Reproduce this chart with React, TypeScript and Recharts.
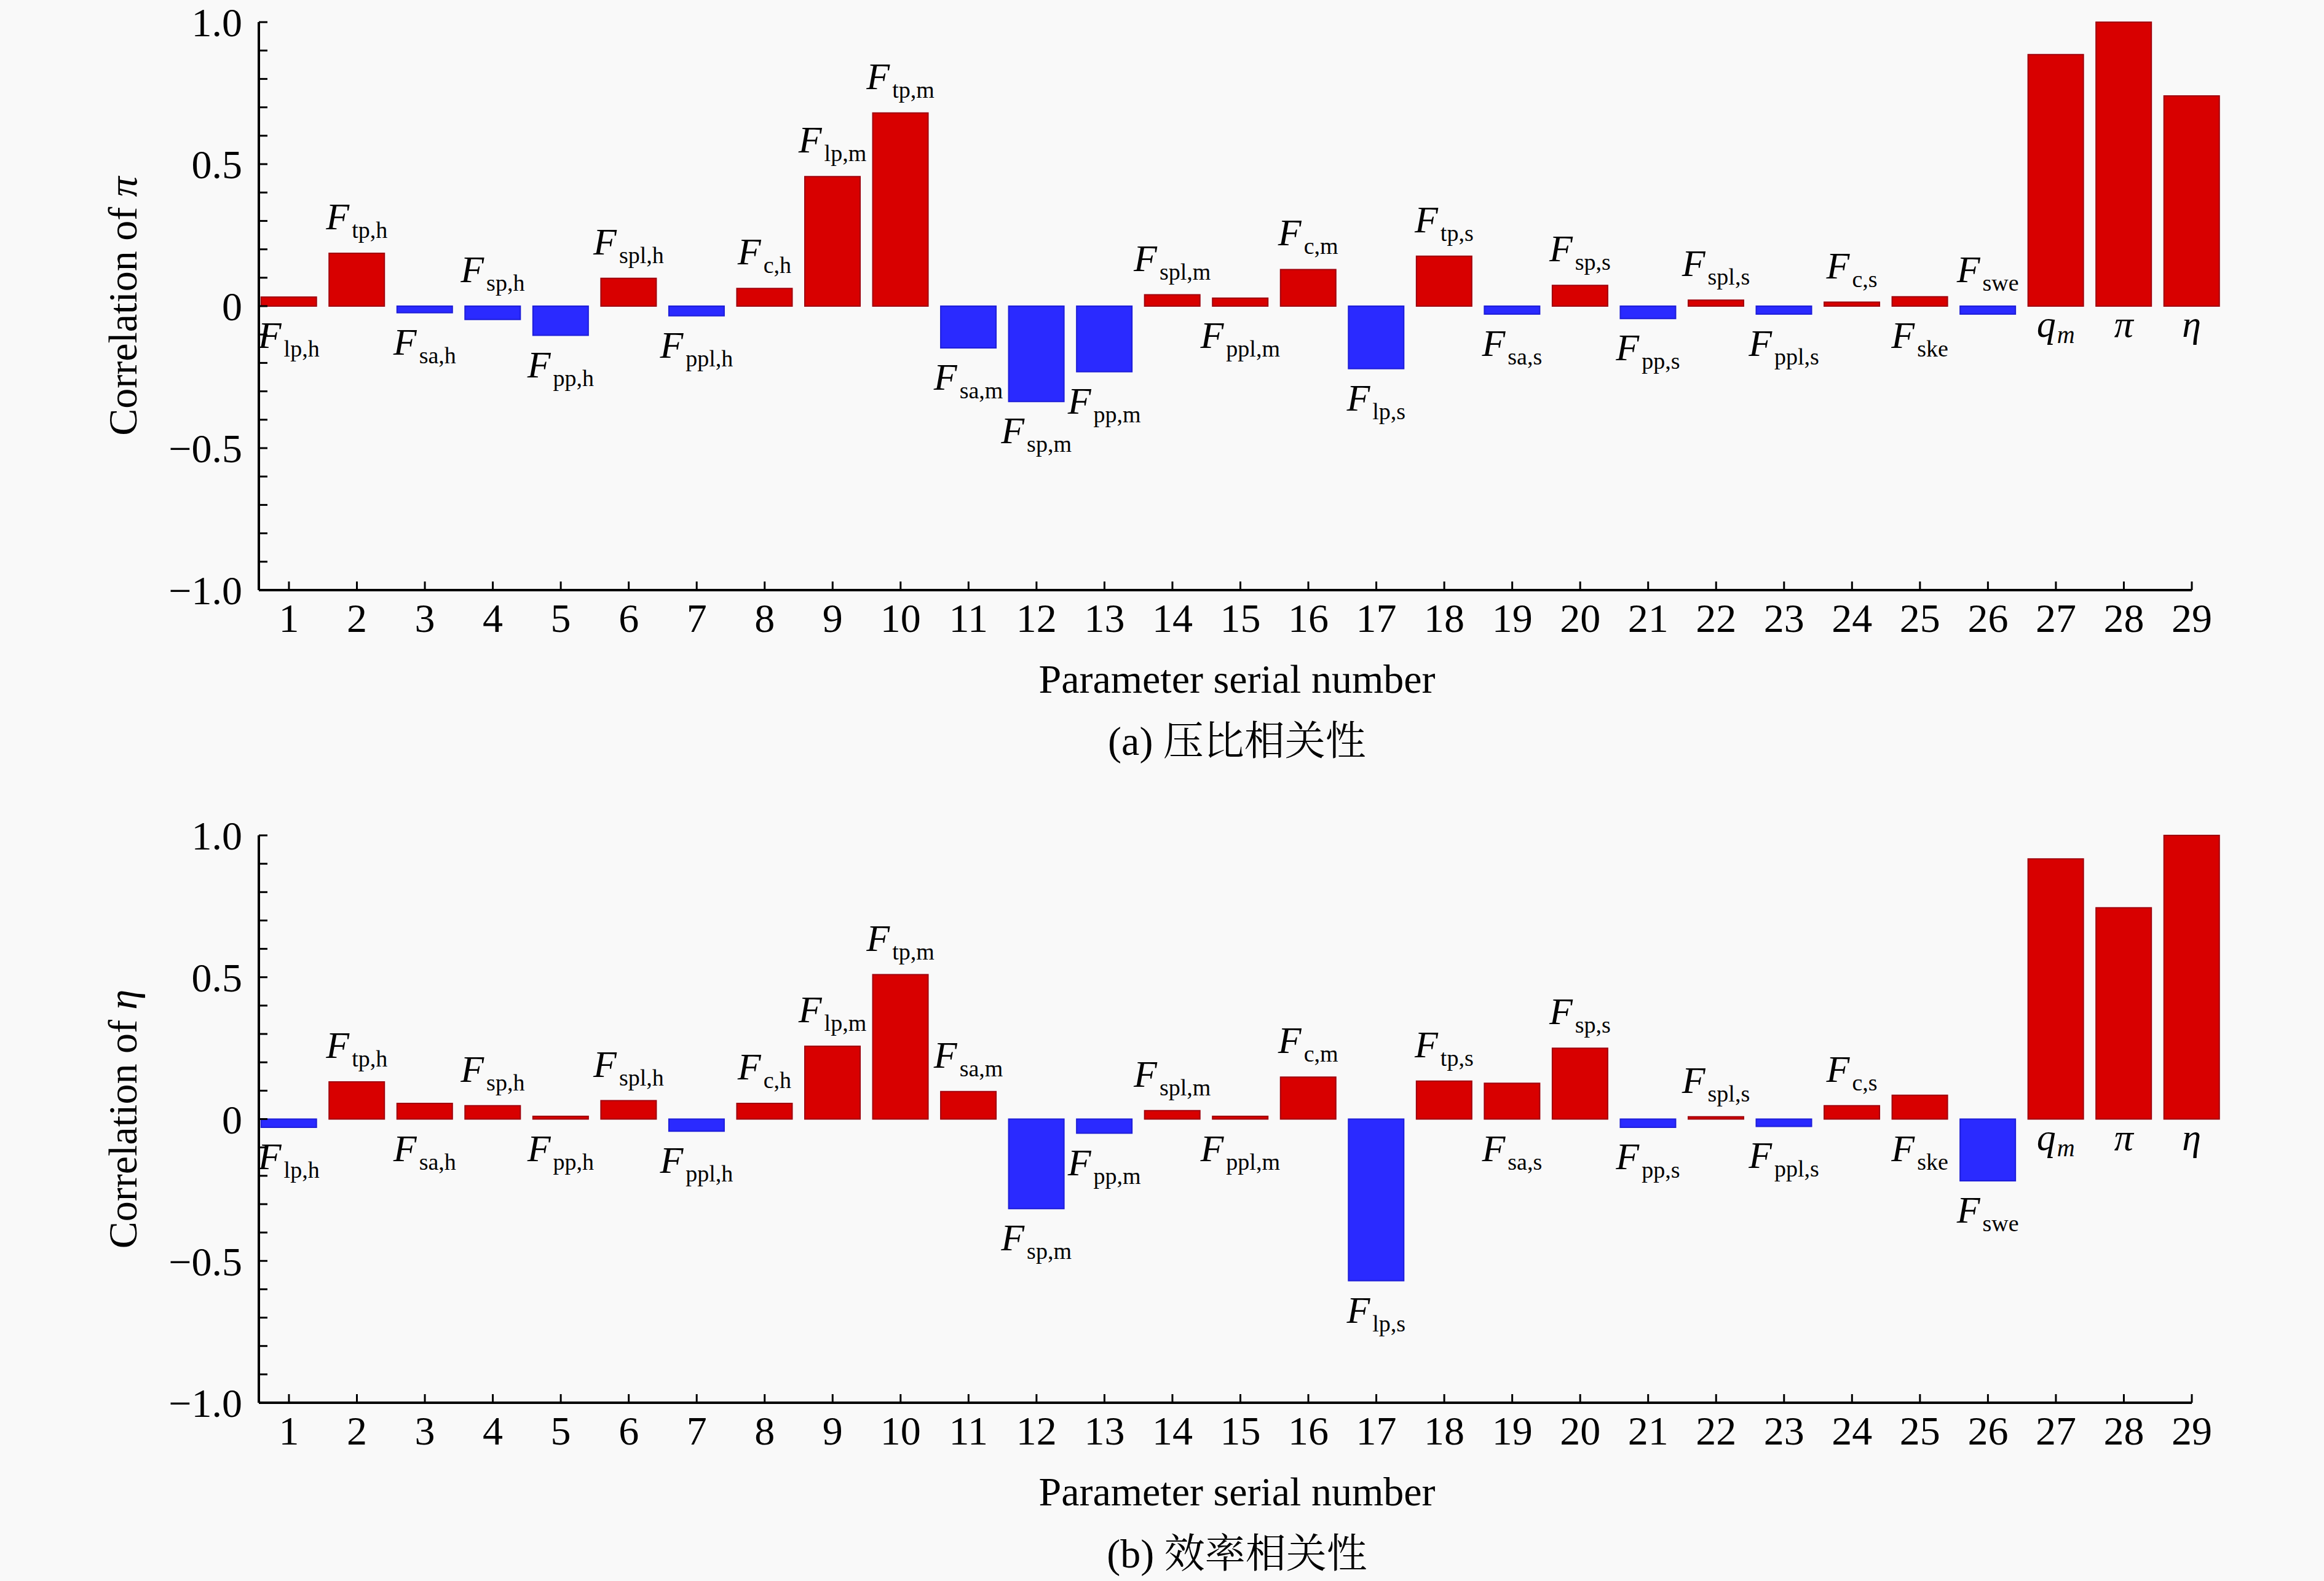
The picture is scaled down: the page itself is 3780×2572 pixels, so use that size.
import React from 'react';
import { BarChart, Bar, XAxis, YAxis, Cell, LabelList } from 'recharts';

// ---------- data ----------
const serialNumbers = [1, 2, 3, 4, 5, 6, 7, 8, 9, 10, 11, 12, 13, 14, 15, 16, 17, 18, 19, 20, 21, 22, 23, 24, 25, 26, 27, 28, 29];

const labelMain = ['F', 'F', 'F', 'F', 'F', 'F', 'F', 'F', 'F', 'F', 'F', 'F', 'F', 'F', 'F', 'F', 'F', 'F', 'F', 'F', 'F', 'F', 'F', 'F', 'F', 'F', 'q', 'π', 'η'];
const labelSub = ['lp,h', 'tp,h', 'sa,h', 'sp,h', 'pp,h', 'spl,h', 'ppl,h', 'c,h', 'lp,m', 'tp,m', 'sa,m', 'sp,m', 'pp,m', 'spl,m', 'ppl,m', 'c,m', 'lp,s', 'tp,s', 'sa,s', 'sp,s', 'pp,s', 'spl,s', 'ppl,s', 'c,s', 'ske', 'swe', 'm', '', ''];

// (a) correlation of pressure ratio π
const pressureRatioCorr = [0.032, 0.186, -0.023, -0.047, -0.103, 0.098, -0.034, 0.062, 0.456, 0.680, -0.147, -0.336, -0.231, 0.040, 0.028, 0.129, -0.220, 0.176, -0.028, 0.073, -0.044, 0.021, -0.028, 0.014, 0.033, -0.028, 0.886, 1.0, 0.740];
const labelSideA = ['below', 'above', 'below', 'above', 'below', 'above', 'below', 'above', 'above', 'above', 'below', 'below', 'below', 'above', 'below', 'above', 'below', 'above', 'below', 'above', 'below', 'above', 'below', 'above', 'below', 'above', 'below', 'below', 'below'];

// (b) correlation of efficiency η
const efficiencyCorr = [-0.029, 0.131, 0.055, 0.047, 0.010, 0.065, -0.043, 0.055, 0.257, 0.509, 0.097, -0.316, -0.050, 0.030, 0.010, 0.148, -0.570, 0.134, 0.126, 0.250, -0.029, 0.008, -0.026, 0.047, 0.084, -0.218, 0.917, 0.745, 1.0];
const labelSideB = ['below', 'above', 'below', 'above', 'below', 'above', 'below', 'above', 'above', 'above', 'above', 'below', 'below', 'above', 'below', 'above', 'below', 'above', 'below', 'above', 'below', 'above', 'below', 'above', 'below', 'below', 'below', 'below', 'below'];

const xTicks = [1, 2, 3, 4, 5, 6, 7, 8, 9, 10, 11, 12, 13, 14, 15, 16, 17, 18, 19, 20, 21, 22, 23, 24, 25, 26, 27, 28, 29];
const yTicks = [-1, -0.9, -0.8, -0.7, -0.6, -0.5, -0.4, -0.3, -0.2, -0.1, 0, 0.1, 0.2, 0.3, 0.4, 0.5, 0.6, 0.7, 0.8, 0.9, 1];
const yMajorTicks = [-1, -0.5, 0, 0.5, 1];
const yMajorLabels = ['−1.0', '−0.5', '0', '0.5', '1.0'];

const xTitle = 'Parameter serial number';

// ---------- styles ----------
const SERIF = "'Liberation Serif', 'Times New Roman', 'Noto Serif CJK SC', 'Noto Sans CJK SC', serif";
const RED = '#d80000';
const RED_EDGE = '#a0000c';
const BLUE = '#2a2aff';
const BLUE_EDGE = '#1e1ed8';

const yTickFormatter = (v: number) => {
  const k = yMajorTicks.findIndex((t) => Math.abs(t - v) < 1e-6);
  return k >= 0 ? yMajorLabels[k] : '';
};

const makeBarLabel = (sides: string[]) => (props: any) => {
  const idx = Number(props.value);
  const vb = props.viewBox || props;
  const x = Number(vb.x);
  const y = Number(vb.y);
  const w = Number(vb.width);
  const h = Number(vb.height);
  if (!isFinite(x) || !isFinite(y)) return null;
  const top = Math.min(y, y + h);
  const bottom = Math.max(y, y + h);
  const cx = x + w / 2;
  const main = labelMain[idx];
  const sub = labelSub[idx];
  const isF = main === 'F';
  const side = sides[idx];
  const baseY = side === 'above' ? top - 39 : bottom + (isF ? 68 : 50);
  return (
    <text x={cx} y={baseY} textAnchor="middle" fontFamily={SERIF} fill="#000">
      <tspan fontStyle="italic" fontSize={62}>{main}</tspan>
      {sub ? (
        <tspan fontStyle={isF ? 'normal' : 'italic'} fontSize={isF ? 38 : 40} dx={isF ? 4 : 2} dy={isF ? 14 : 10}>
          {sub}
        </tspan>
      ) : null}
    </text>
  );
};

type PanelProps = {
  values: number[];
  sides: string[];
  yVar: string;
  caption: string;
  height: number;
  marginTop: number;
  marginBottom: number;
};

function Panel({ values, sides, yVar, caption, height, marginTop, marginBottom }: PanelProps) {
  const data = serialNumbers.map((n, i) => ({ n, v: values[i], i }));
  return (
    <BarChart
      width={3780}
      height={height}
      data={data}
      margin={{ top: marginTop, right: 215, bottom: marginBottom, left: 0 }}
    >
      <XAxis
        dataKey="n"
        type="number"
        domain={[0.557, 29]}
        ticks={xTicks}
        interval={0}
        height={100}
        tickSize={-14}
        tickMargin={35}
        axisLine={{ stroke: '#000', strokeWidth: 4 }}
        tickLine={{ stroke: '#000', strokeWidth: 3 }}
        tick={{ fontSize: 66, fill: '#000', fontFamily: SERIF }}
        label={{
          content: (p: any) => {
            const vb = p.viewBox || {};
            const cx = Number(vb.x) + Number(vb.width) / 2 + 19;
            const ay = Number(vb.y);
            return (
              <g>
                <text x={cx} y={ay + 167} textAnchor="middle" fontFamily={SERIF} fontSize={66} fill="#000">
                  {xTitle}
                </text>
                <text x={cx} y={ay + 268} textAnchor="middle" fontFamily={SERIF} fontSize={66} fill="#000">
                  {caption}
                </text>
              </g>
            );
          },
        }}
      />
      <YAxis
        type="number"
        domain={[-1, 1]}
        ticks={yTicks}
        interval={0}
        width={421}
        tickSize={-14}
        tickMargin={41}
        tickFormatter={yTickFormatter}
        axisLine={{ stroke: '#000', strokeWidth: 4 }}
        tickLine={{ stroke: '#000', strokeWidth: 3 }}
        tick={{ fontSize: 66, fill: '#000', fontFamily: SERIF }}
        label={{
          content: (p: any) => {
            const vb = p.viewBox || {};
            const lx = Number(vb.x) + 222;
            const ly = Number(vb.y) + Number(vb.height) / 2;
            return (
              <text
                x={lx}
                y={ly}
                textAnchor="middle"
                transform={`rotate(-90, ${lx}, ${ly})`}
                fontFamily={SERIF}
                fontSize={66}
                fill="#000"
              >
                Correlation of <tspan fontStyle="italic">{yVar}</tspan>
              </text>
            );
          },
        }}
      />
      <Bar dataKey="v" barSize={90} isAnimationActive={false}>
        {data.map((d, i) => (
          <Cell
            key={`c-${i}`}
            fill={d.v >= 0 ? RED : BLUE}
            stroke={d.v >= 0 ? RED_EDGE : BLUE_EDGE}
            strokeWidth={2}
          />
        ))}
        <LabelList dataKey="i" content={makeBarLabel(sides)} />
      </Bar>
    </BarChart>
  );
}

export default function App() {
  return (
    <div
      style={{
        position: 'absolute',
        left: 0,
        top: 0,
        width: 3780,
        height: 2572,
        background: '#f9f9f9',
        overflow: 'hidden',
      }}
    >
      <div style={{ position: 'absolute', left: 0, top: 0 }}>
        <Panel
          values={pressureRatioCorr}
          sides={labelSideA}
          yVar="π"
          caption="(a) 压比相关性"
          height={1290}
          marginTop={36}
          marginBottom={230}
        />
      </div>
      <div style={{ position: 'absolute', left: 0, top: 1290 }}>
        <Panel
          values={efficiencyCorr}
          sides={labelSideB}
          yVar="η"
          caption="(b) 效率相关性"
          height={1282}
          marginTop={69}
          marginBottom={190}
        />
      </div>
    </div>
  );
}
